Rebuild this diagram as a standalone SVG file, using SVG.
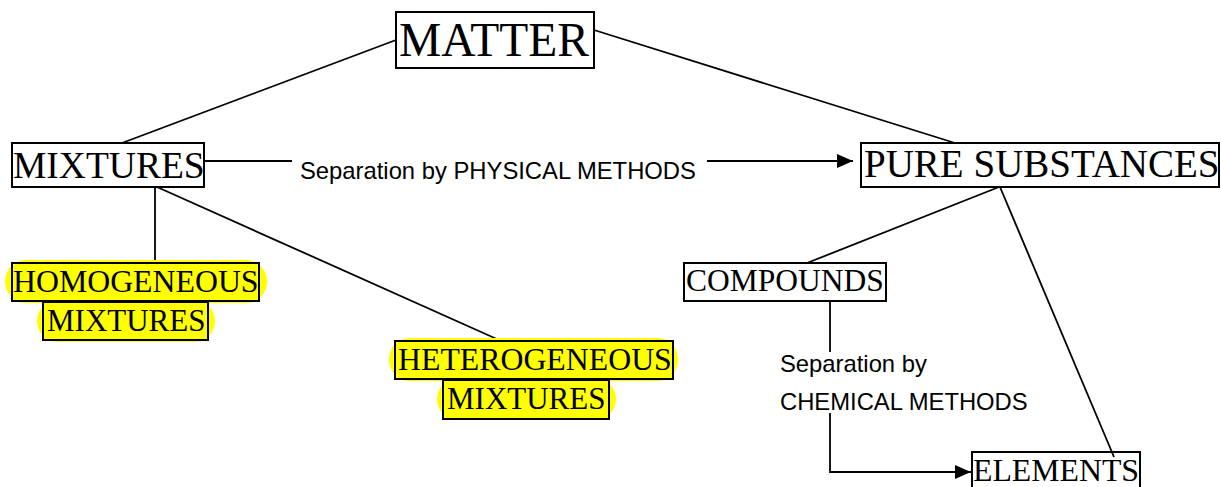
<svg xmlns="http://www.w3.org/2000/svg" width="1221" height="487" viewBox="0 0 1221 487">
<style>
.box{fill:none;stroke:#000;stroke-width:2}
.hl{fill:#ffff00;stroke:none}
.t{font-family:"Liberation Serif","Times New Roman",serif;fill:#000}
.s{font-family:"Liberation Sans",Arial,sans-serif;font-size:23.8px;fill:#000}
.ln{stroke:#000;stroke-width:1.8;fill:none}
</style>
<defs>
<marker id="ah" markerWidth="16" markerHeight="14" refX="16" refY="7" orient="auto" markerUnits="userSpaceOnUse">
<path d="M0,0 L16,7 L0,14 Z" fill="#000"/>
</marker>
</defs>
<rect width="1221" height="487" fill="#fff"/>
<g id="connectors">
<line class="ln" x1="396" y1="40" x2="122" y2="143"/>
<line class="ln" x1="594" y1="30" x2="955" y2="143"/>
<line class="ln" x1="204" y1="161" x2="292" y2="161"/>
<line class="ln" x1="707" y1="161" x2="853" y2="161" marker-end="url(#ah)"/>
<text class="s" x="300" y="179">Separation by PHYSICAL METHODS</text>
<line class="ln" x1="155" y1="187" x2="155" y2="263"/>
<line class="ln" x1="157" y1="187" x2="499" y2="340"/>
<line class="ln" x1="999" y1="187" x2="807" y2="263"/>
<line class="ln" x1="1000" y1="187" x2="1114" y2="457"/>
<line class="ln" x1="830" y1="301" x2="830" y2="352"/>
<polyline class="ln" points="830,413 830,472 971,472" marker-end="url(#ah)"/>
<text class="s" x="780" y="372">Separation by</text>
<text class="s" x="780" y="410">CHEMICAL METHODS</text>
</g>
<g id="matter">
<rect class="box" x="396" y="12" width="198" height="56"/>
<text class="t" x="399" y="56" font-size="47.5">MATTER</text>
</g>
<g id="mixtures">
<rect class="box" x="12" y="143" width="192" height="44"/>
<text class="t" x="13" y="178" font-size="37.5">MIXTURES</text>
</g>
<g id="pure-substances">
<rect class="box" x="861" y="143" width="358" height="44"/>
<text class="t" x="864" y="177" font-size="39">PURE SUBSTANCES</text>
</g>
<g id="homogeneous">
<rect class="hl" x="5" y="260" width="262" height="43" rx="21"/>
<rect class="hl" x="37" y="300" width="178" height="42" rx="21"/>
<rect class="hl" x="12" y="263" width="247" height="38"/>
<rect class="hl" x="43" y="302" width="165" height="38"/>
<rect class="box" x="12" y="263" width="247" height="38"/>
<rect class="box" x="43" y="302" width="165" height="38"/>
<text class="t" x="13" y="292" font-size="31.8">HOMOGENEOUS</text>
<text class="t" x="47" y="331" font-size="31">MIXTURES</text>
</g>
<g id="heterogeneous">
<rect class="hl" x="389" y="338" width="289" height="43" rx="21"/>
<rect class="hl" x="437" y="378" width="179" height="42" rx="21"/>
<rect class="hl" x="395" y="341" width="278" height="38"/>
<rect class="hl" x="443" y="380" width="166" height="39"/>
<rect class="box" x="395" y="341" width="278" height="38"/>
<rect class="box" x="443" y="380" width="166" height="39"/>
<text class="t" x="398" y="370" font-size="31.8">HETEROGENEOUS</text>
<text class="t" x="447" y="409" font-size="31">MIXTURES</text>
</g>
<g id="compounds">
<rect class="box" x="684" y="263" width="202" height="38"/>
<text class="t" x="686" y="291" font-size="31.5">COMPOUNDS</text>
</g>
<g id="elements">
<rect class="box" x="972" y="452" width="168" height="40"/>
<text class="t" x="973" y="481" font-size="31.8">ELEMENTS</text>
</g>
</svg>
